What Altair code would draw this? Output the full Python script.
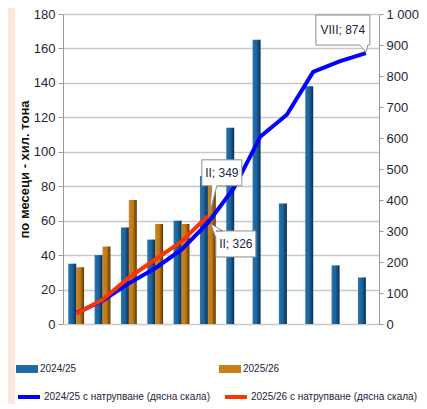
import altair as alt
import pandas as pd

months = ["IX", "X", "XI", "XII", "I", "II", "III", "IV", "V", "VI", "VII", "VIII"]
series_bars = ["2024/25", "2025/26"]
series_lines = ["2024/25 с натрупване (дясна скала)", "2025/26 с натрупване (дясна скала)"]

monthly_2425 = [35, 40, 56, 49, 60, 86, 114, 165, 70, 138, 34, 27]
monthly_2526 = [33, 45, 72, 58, 58, 83]
cum_2425 = [35, 75, 131, 180, 240, 326, 440, 605, 675, 813, 847, 874]
cum_2526 = [33, 78, 150, 208, 266, 349]

ann_month = ["II", "II", "VIII"]
ann_value = [349, 326, 874]
ann_text = ["II; 349", "II; 326", "VIII; 874"]

bar_rows = [{"month": m, "series": series_bars[0], "v": v} for m, v in zip(months, monthly_2425)]
bar_rows += [{"month": m, "series": series_bars[1], "v": v} for m, v in zip(months, monthly_2526)]
bars_df = pd.DataFrame(bar_rows)

line_rows = [{"month": m, "series": series_lines[0], "v": v, "o": i} for i, (m, v) in enumerate(zip(months, cum_2425))]
line_rows += [{"month": m, "series": series_lines[1], "v": v, "o": i} for i, (m, v) in enumerate(zip(months, cum_2526))]
lines_df = pd.DataFrame(line_rows)

FONT = "Liberation Sans"
TXT = "#25253a"
W = 316

xscale = alt.Scale(domain=months, paddingInner=0.4, paddingOuter=0.2)
xenc = alt.X("month:N", sort=months, scale=xscale,
             axis=alt.Axis(title=None, labelAngle=0, tickBand="extent", tickSize=5,
                           labelPadding=9, domainColor="#9a9a9a", tickColor="#9a9a9a",
                           labelFont=FONT, labelFontSize=13, labelColor=TXT, grid=False))

left_y = alt.Y("v:Q", scale=alt.Scale(domain=[0, 180]),
               axis=alt.Axis(title="по месеци - хил. тона", values=list(range(0, 181, 20)),
                             tickSize=5, labelPadding=3, domainColor="#9a9a9a", tickColor="#9a9a9a",
                             gridColor="#c9c9c9", gridWidth=1.5, labelFont=FONT, labelFontSize=13,
                             labelColor=TXT, titleFont=FONT, titleFontSize=13,
                             titleFontWeight="bold", titleColor="#111111", titlePadding=2))

fill_scale = alt.Scale(domain=series_bars, range=["#1c69a6", "#c97f15"])

bars = alt.Chart(bars_df).mark_bar().encode(
    x=xenc,
    xOffset=alt.XOffset("series:N", sort=series_bars, scale=alt.Scale(domain=series_bars)),
    y=left_y,
    fill=alt.Fill("series:N", scale=fill_scale,
                  legend=alt.Legend(title=None, orient="none", legendX=-47, legendY=344,
                                    direction="horizontal", columns=2, columnPadding=142,
                                    symbolType="M-1,-0.36H1V0.36H-1Z", symbolSize=484,
                                    symbolStrokeWidth=0, labelOffset=2, padding=0,
                                    labelFont=FONT, labelFontSize=10, labelColor=TXT)),
)

shade = alt.Chart(bars_df).mark_bar(
    fill={"gradient": "linear", "x1": 0, "x2": 1, "y1": 0, "y2": 0,
          "stops": [{"offset": 0, "color": "rgba(255,255,255,0.12)"},
                    {"offset": 0.45, "color": "rgba(0,0,0,0)"},
                    {"offset": 1, "color": "rgba(0,0,0,0.55)"}]}
).encode(
    x=alt.X("month:N", sort=months, scale=xscale, axis=None),
    xOffset=alt.XOffset("series:N", sort=series_bars, scale=alt.Scale(domain=series_bars)),
    y=alt.Y("v:Q", scale=alt.Scale(domain=[0, 180]), axis=None),
)

right_scale = alt.Scale(domain=[0, 1000])
right_axis = alt.Axis(title=None, orient="right", values=list(range(0, 1001, 100)),
                      tickSize=4, labelPadding=3, domainColor="#9a9a9a",
                      tickColor="#9a9a9a", grid=False, labelFont=FONT, labelFontSize=13,
                      labelColor=TXT,
                      labelExpr="datum.value == 1000 ? '1 000' : datum.label")
right_y = alt.Y("v:Q", scale=right_scale, axis=right_axis)

lines = alt.Chart(lines_df).mark_line(strokeWidth=4, interpolate="linear").encode(
    x=alt.X("month:N", sort=months, scale=xscale),
    y=right_y,
    order="o:Q",
    stroke=alt.Stroke("series:N", scale=alt.Scale(domain=series_lines, range=["#0000ff", "#ff3300"]),
                      legend=alt.Legend(title=None, orient="none", legendX=-47, legendY=370,
                                        direction="horizontal", columns=2, columnPadding=7,
                                        symbolType="stroke", symbolSize=484, symbolStrokeWidth=4,
                                        labelOffset=2, padding=0, labelFont=FONT, labelFontSize=10,
                                        labelColor=TXT, labelLimit=300)),
)

ann_df = pd.DataFrame({"month": ann_month, "v": ann_value, "t": ann_text})
box_shapes = [
    "M-6,-56H34V-30H9L2,-3L4,-30H-6Z",
    "M8,8H48V34H8V15L3,1L15,8Z",
    "M-50,-38H4V-8H2L0,-1L-6,-8H-50Z",
]
box_dx = [14, 28, -23]
box_dy = [-43, 21, -23]

ann_layers = []
for i in range(3):
    d = ann_df.iloc[[i]]
    ann_layers.append(
        alt.Chart(d).mark_point(shape=box_shapes[i], size=4, filled=True, fill="white",
                                stroke="#8c8c8c", strokeWidth=1, opacity=1).encode(
            x=alt.X("month:N", sort=months, scale=xscale),
            y=right_y)
    )
    ann_layers.append(
        alt.Chart(d).mark_text(dx=box_dx[i], dy=box_dy[i], font=FONT, fontSize=12, color=TXT).encode(
            x=alt.X("month:N", sort=months, scale=xscale),
            y=right_y,
            text="t:N")
    )

strip = alt.Chart(pd.DataFrame({"a": [0]})).mark_rect(color="#fbe8da").encode(
    x=alt.value(-55), x2=alt.value(-48), y=alt.value(-6), y2=alt.value(395))

right_group = alt.layer(lines, *ann_layers)

chart = alt.layer(strip, bars, shade, right_group).resolve_scale(
    y="independent", fill="independent", stroke="independent"
).properties(
    width=W, height=310,
    padding={"left": 55, "top": 6, "right": 411 - 55 - W, "bottom": 80},
    autosize=alt.AutoSizeParams(type="none"),
).configure_view(stroke=None)

chart.save("out.html", embed_options={"renderer": "svg", "actions": False})
